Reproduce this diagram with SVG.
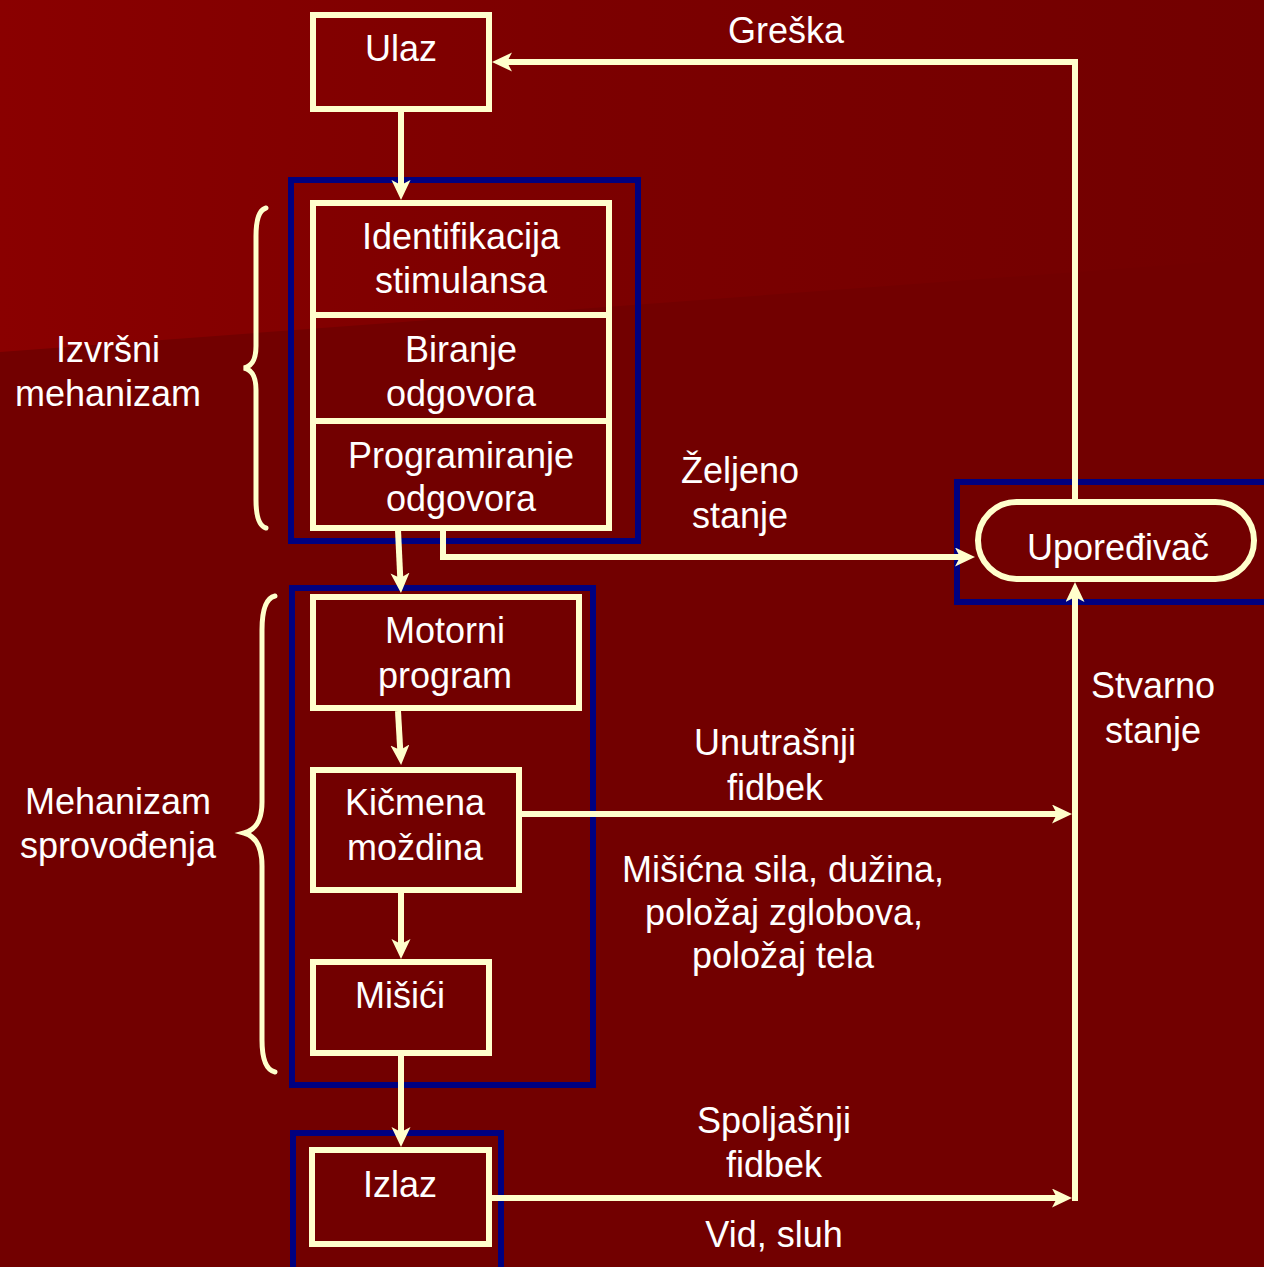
<svg xmlns="http://www.w3.org/2000/svg" width="1264" height="1267" viewBox="0 0 1264 1267">
  <defs>
    <linearGradient id="bgGrad" x1="0" y1="0" x2="1264" y2="0" gradientUnits="userSpaceOnUse">
      <stop offset="0" stop-color="#8A0000"/>
      <stop offset="0.45" stop-color="#7C0000"/>
      <stop offset="1" stop-color="#720000"/>
    </linearGradient>
    <marker id="arrow" markerUnits="userSpaceOnUse" markerWidth="22" markerHeight="20" refX="8" refY="9.5" orient="auto" viewBox="0 0 22 20">
      <path d="M0,0 L20,9.5 L0,19 L5,9.5 z" fill="#FFFFCC"/>
    </marker>
    <style>
      .node { fill: none; stroke: #FFFFCC; stroke-width: 6; }
      .frame { fill: none; stroke: #000080; stroke-width: 6; }
      .conn { fill: none; stroke: #FFFFCC; stroke-width: 6; }
      .brace { fill: none; stroke: #FFFFCC; stroke-width: 5; stroke-linecap: round; }
      text { font-family: "Liberation Sans", Arial, sans-serif; font-size: 36px; fill: #FFFFFF; text-anchor: middle; }
    </style>
  </defs>

  <!-- background -->
  <rect x="0" y="0" width="1264" height="1267" fill="#720000"/>
  <polygon points="0,0 1264,0 1264,258 0,352" fill="url(#bgGrad)"/>

  <!-- grouping frames -->
  <g id="frames">
    <rect class="frame" x="291" y="180" width="347" height="361"/>
    <rect class="frame" x="292" y="588" width="301" height="497"/>
    <rect class="frame" x="293" y="1133" width="208" height="140"/>
    <rect class="frame" x="957" y="482" width="320" height="120"/>
  </g>

  <!-- braces -->
  <g id="braces">
    <path class="brace" d="M266,208 C259,210 256,220 256,236 L256,346 C256,360 252,366 244,368 C252,370 256,376 256,390 L256,500 C256,516 259,526 266,528"/>
    <path class="brace" d="M275,596 C266,598 262,610 262,630 L262,802 C262,822 255,830 244,833 C255,836 262,846 262,866 L262,1040 C262,1058 266,1070 275,1072"/>
  </g>

  <!-- connectors -->
  <g id="connectors">
    <line class="conn" x1="401" y1="112" x2="401" y2="188" marker-end="url(#arrow)"/>
    <line class="conn" x1="398" y1="530" x2="400.4" y2="581" marker-end="url(#arrow)"/>
    <path class="conn" d="M443,530 V557 H963" marker-end="url(#arrow)"/>
    <line class="conn" x1="398" y1="711" x2="400.4" y2="753" marker-end="url(#arrow)"/>
    <line class="conn" x1="401" y1="893" x2="401" y2="947" marker-end="url(#arrow)"/>
    <line class="conn" x1="401" y1="1056" x2="401" y2="1135" marker-end="url(#arrow)"/>
    <line class="conn" x1="522" y1="814" x2="1060" y2="814" marker-end="url(#arrow)"/>
    <line class="conn" x1="492" y1="1198" x2="1060" y2="1198" marker-end="url(#arrow)"/>
    <line class="conn" x1="1075" y1="1201" x2="1075" y2="594" marker-end="url(#arrow)"/>
    <path class="conn" d="M1075,499 V62 H504" marker-end="url(#arrow)"/>
  </g>

  <!-- nodes -->
  <g id="node-ulaz">
    <rect class="node" x="313" y="15" width="176" height="94"/>
    <text x="401" y="61">Ulaz</text>
  </g>
  <g id="node-identifikacija">
    <rect class="node" x="313" y="203" width="296" height="112"/>
    <text x="461" y="249">Identifikacija</text>
    <text x="461" y="293">stimulansa</text>
  </g>
  <g id="node-biranje">
    <rect class="node" x="313" y="315" width="296" height="106"/>
    <text x="461" y="362">Biranje</text>
    <text x="461" y="406">odgovora</text>
  </g>
  <g id="node-programiranje">
    <rect class="node" x="313" y="421" width="296" height="107"/>
    <text x="461" y="468">Programiranje</text>
    <text x="461" y="511">odgovora</text>
  </g>
  <g id="node-motorni">
    <rect class="node" x="313" y="597" width="266" height="111"/>
    <text x="445" y="643">Motorni</text>
    <text x="445" y="688">program</text>
  </g>
  <g id="node-kicmena">
    <rect class="node" x="313" y="770" width="206" height="120"/>
    <text x="415" y="815">Kičmena</text>
    <text x="415" y="860">moždina</text>
  </g>
  <g id="node-misici">
    <rect class="node" x="313" y="962" width="176" height="91"/>
    <text x="400" y="1008">Mišići</text>
  </g>
  <g id="node-izlaz">
    <rect class="node" x="312" y="1150" width="177" height="94"/>
    <text x="400" y="1197">Izlaz</text>
  </g>
  <g id="node-uporedjivac">
    <rect class="node" x="978" y="502" width="276" height="77" rx="38.5" ry="38.5"/>
    <text x="1118" y="560">Upoređivač</text>
  </g>

  <!-- labels -->
  <g id="labels">
    <text x="786" y="43">Greška</text>
    <text x="740" y="483">Željeno</text>
    <text x="740" y="528">stanje</text>
    <text x="1153" y="698">Stvarno</text>
    <text x="1153" y="743">stanje</text>
    <text x="775" y="755">Unutrašnji</text>
    <text x="775" y="800">fidbek</text>
    <text x="783" y="882">Mišićna sila, dužina,</text>
    <text x="784" y="925">položaj zglobova,</text>
    <text x="783" y="968">položaj tela</text>
    <text x="774" y="1133">Spoljašnji</text>
    <text x="774" y="1177">fidbek</text>
    <text x="774" y="1247">Vid, sluh</text>
    <text x="108" y="362">Izvršni</text>
    <text x="108" y="406">mehanizam</text>
    <text x="118" y="814">Mehanizam</text>
    <text x="118" y="858">sprovođenja</text>
  </g>
</svg>
